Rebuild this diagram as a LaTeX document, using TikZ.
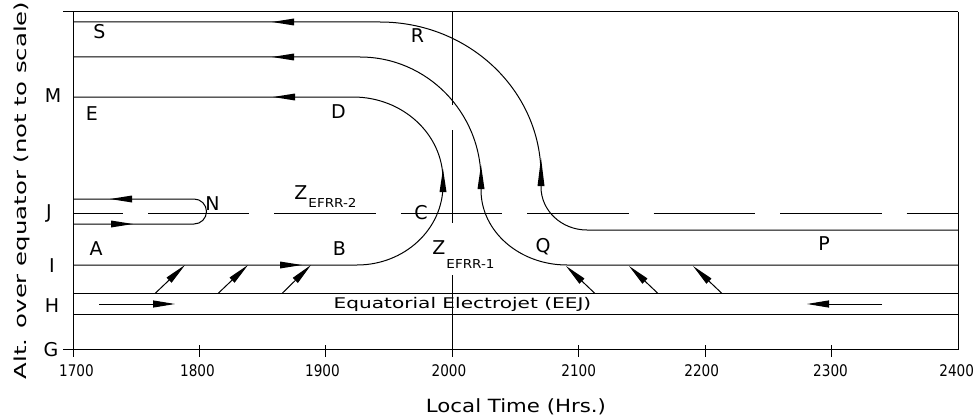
\documentclass[tikz,border=0pt]{standalone}
\usepackage{graphicx}
\usepackage{fontspec}
\setmainfont{DejaVu Sans}
\usetikzlibrary{arrows.meta}
\newcommand\hsc[2]{\scalebox{#1}[1]{#2}}
\newcommand\tipL[2]{\fill (#1,#2) -- ++(22,-3.5) -- ++(0,7) -- cycle;}
\newcommand\tipR[2]{\fill (#1,#2) -- ++(-22,-3.5) -- ++(0,7) -- cycle;}
\newcommand\tipU[3]{\fill (#1,#2) -- (#1-3.5,#3) -- (#1+3.5,#3) -- cycle;}
\begin{document}
\begin{tikzpicture}[x=1pt,y=-1pt,line width=1pt,
  lbl/.style={inner sep=0pt,anchor=base,font=\fontsize{19}{19}\selectfont},
  ticklbl/.style={inner sep=0pt,anchor=base,font=\fontsize{16}{16}\selectfont},
  sublbl/.style={inner sep=0pt,anchor=base,font=\fontsize{12.3}{12.3}\selectfont},
  flow/.style={-{Triangle[length=22pt,width=7pt]}},
]
\useasboundingbox (0,0) rectangle (977,420);
% frame and axes
\draw (63,12) -- (958,12);
\draw (73,12) -- (73,357);
\draw (958,12) -- (958,350);
\draw (63,349) -- (958,349);
\foreach \x in {199.43,325.86,578.71,705.14,831.57} \draw (\x,345) -- (\x,357);
\draw (452.29,12) -- (452.29,105);
\draw (452.29,130) -- (452.29,223);
\draw (452.29,275) -- (452.29,357);
% horizontal layers
\draw (73,293.5) -- (958,293.5);
\draw (73,314) -- (958,314);
\draw[dash pattern=on 101.43pt off 25pt,dash phase=51.43pt] (73,213) -- (958,213);
% N hook
\draw (73,224) -- (194,224) .. controls (200.9,224) and (206.5,218.4) .. (206.5,211.5)
      .. controls (206.5,204.6) and (200.9,199) .. (194,199) -- (73,199);
% D-B path
\draw (73,265) -- (357,265) .. controls (404.5,265) and (443,229.2) .. (443,185) -- (443,180)
      .. controls (443,134.2) and (402.7,97) .. (353,97) -- (73,97);
% middle path
\draw (958,265) -- (567,265) .. controls (519.5,265) and (481,231.4) .. (481,190) -- (481,180)
      .. controls (481,112.1) and (426.8,57) .. (360,57) -- (73,57);
% outer path
\draw (958,230) -- (587,230) .. controls (561.6,230) and (541,210.7) .. (541,187) -- (541,175)
      .. controls (541,90.5) and (468.9,22) .. (380,22) -- (73,22);
% arrowheads on paths
\tipL{272}{22} \tipL{272}{57} \tipL{273}{97} \tipL{110}{199}
\tipR{133}{224} \tipR{302}{265}
\tipU{443}{169}{192} \tipU{481}{165}{189} \tipU{541}{158}{186}
% EEJ arrows
\draw[flow] (99,304) -- (175,304);
\draw[flow] (882,304) -- (807,304);
% diagonal arrows
\draw[flow] (155,293.5) -- (185,265);
\draw[flow] (218,293.5) -- (248,265);
\draw[flow] (282,293.5) -- (311,265);
\draw[flow] (595,293.5) -- (566,266);
\draw[flow] (658,293.5) -- (629,266);
\draw[flow] (722,293.5) -- (693,266);
% left labels
\node[lbl] (lM) at (53,102) {M};
\node[lbl] (lJ) at (49,218) {J};
\node[lbl] (lI) at (52,272) {I};
\node[lbl] (lH) at (52,312) {H};
\node[lbl] (lG) at (51,356) {G};
% inside labels
\node[lbl] (lS) at (99.5,39) {S};
\node[lbl] (lE) at (92,120) {E};
\node[lbl] (lA) at (96,255) {A};
\node[lbl] (lN) at (212.5,210) {N};
\node[lbl] (lD) at (338.5,118) {D};
\node[lbl] (lR) at (417.5,43) {R};
\node[lbl] (lB) at (339.5,255) {B};
\node[lbl] (lC) at (421,219) {C};
\node[lbl] (lQ) at (543,252) {Q};
\node[lbl] (lP) at (824,250) {P};
\node[lbl] (z2) at (301,199) {Z};
\node[sublbl] (z2s) at (332.5,207) {\hsc{1.1}{EFRR-2}};
\node[lbl] (z1) at (439,254) {Z};
\node[sublbl] (z1s) at (470.5,268) {\hsc{1.1}{EFRR-1}};
\node[inner sep=0pt,anchor=base,font=\fontsize{14.7}{14.7}\selectfont] (eej) at (462.5,308.3) {\hsc{1.366}{Equatorial Electrojet (EEJ)}};
% tick labels
\node[ticklbl] (t17) at (76.5,376) {\hsc{0.85}{1700}};
\node[ticklbl] (t18) at (197.5,376) {\hsc{0.85}{1800}};
\node[ticklbl] (t19) at (322.5,376) {\hsc{0.85}{1900}};
\node[ticklbl] (t20) at (449,376) {\hsc{0.85}{2000}};
\node[ticklbl] (t21) at (578.7,376) {\hsc{0.85}{2100}};
\node[ticklbl] (t22) at (701.7,376) {\hsc{0.85}{2200}};
\node[ticklbl] (t23) at (830.5,376) {\hsc{0.85}{2300}};
\node[ticklbl] (t24) at (956.7,376) {\hsc{0.85}{2400}};
% axis titles
\node[inner sep=0pt,anchor=base,font=\fontsize{18.2}{18.2}\selectfont] (xlab) at (516,412.7) {\hsc{1.17}{Local Time (Hrs.)}};
\node[inner sep=0pt,anchor=base,rotate=90,font=\fontsize{16.5}{16.5}\selectfont] (ylab) at (27,190.5) {\hsc{1.476}{Alt. over equator (not to scale)}};
\end{tikzpicture}
\end{document}
